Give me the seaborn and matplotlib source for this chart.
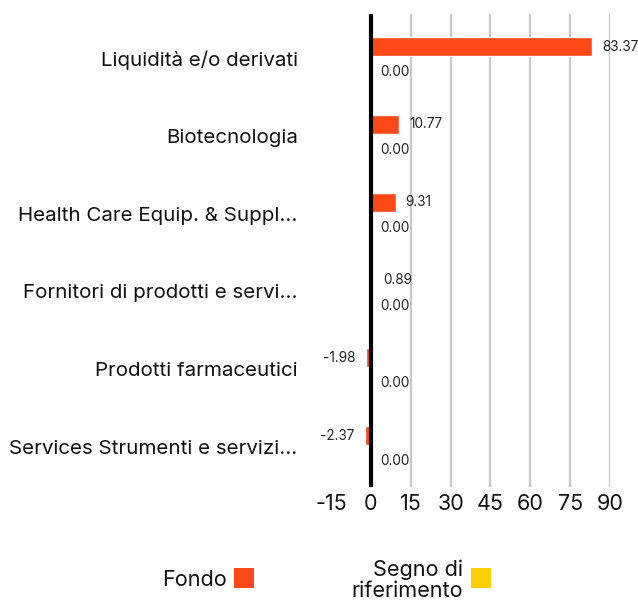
import matplotlib
matplotlib.use("Agg")
import matplotlib.pyplot as plt
import matplotlib.transforms as mtransforms
import seaborn as sns
import pandas as pd
from matplotlib.patches import Rectangle

categories = ["Liquidità e/o derivati", "Biotecnologia", "Health Care Equip. & Suppl...",
              "Fornitori di prodotti e servi...", "Prodotti farmaceutici",
              "Services Strumenti e servizi..."]
fondo = [83.37, 10.77, 9.31, 0.89, -1.98, -2.37]
riferimento = [0.00, 0.00, 0.00, 0.00, 0.00, 0.00]
series_names = ["Fondo", "Segno di\nriferimento"]
x_ticks = [-15, 0, 15, 30, 45, 60, 75, 90]
colors = ["#FF4A17", "#FFCE00"]

df = pd.DataFrame({
    "cat": categories * 2,
    "value": fondo + riferimento,
    "series": [series_names[0]] * len(categories) + [series_names[1]] * len(categories),
})

sns.set_theme(style="white")
plt.rcParams['font.family'] = ['Inter', 'DejaVu Sans']
plt.rcParams['axes.unicode_minus'] = False

W, H = 638, 603
fig = plt.figure(figsize=(W / 100, H / 100), dpi=100)
ax = fig.add_axes([331 / W, 1 - 487 / H, (610 - 331) / W, (487 - 14) / H])

sns.barplot(data=df, y="cat", x="value", hue="series", orient="h", palette=colors,
            width=0.49, ax=ax, legend=False, saturation=1, errorbar=None, zorder=2)

ax.set_xlim(-15, 90)
ax.set_ylim(len(categories) - 0.46, -0.54)
for v in x_ticks:
    if v > 0:
        ax.axvline(v, color="#c8c8c8", lw=1.6, zorder=0)
ax.axvline(0, color="black", lw=3, zorder=3)

ax.set_xticks(x_ticks)
ax.set_xticklabels([str(t) for t in x_ticks])
ax.tick_params(axis='x', length=0, labelsize=15.5, pad=5, colors="#111111")
ax.tick_params(axis='y', length=0, labelsize=14.8, pad=24, colors="#111111")
shift = mtransforms.ScaledTranslation(0, -1.5 / 72, fig.dpi_scale_trans)
for lab in ax.get_yticklabels():
    lab.set_transform(lab.get_transform() + shift)
ax.set_xlabel("")
ax.set_ylabel("")
for s in ax.spines.values():
    s.set_visible(False)

for i, v in enumerate(fondo):
    ax.annotate(f"{v:.2f}", (v, i - 0.12), xytext=(7 if v >= 0 else -7, 0),
                textcoords="offset points", ha='left' if v >= 0 else 'right',
                va='center', fontsize=9.8, color="#222222")
for i, v in enumerate(riferimento):
    ax.annotate(f"{v:.2f}", (v, i + 0.12), xytext=(7, -5),
                textcoords="offset points", ha='left', va='center',
                fontsize=9.8, color="#222222")

# legend
fig.text(227 / W, 1 - 580 / H, series_names[0], ha='right', va='center', fontsize=15.6, color="#111111")
fig.add_artist(Rectangle((234 / W, 1 - 588 / H), 20 / W, 20 / H, transform=fig.transFigure,
                         color=colors[0], lw=0))
fig.text(463 / W, 1 - 580 / H, series_names[1], ha='right', va='center', fontsize=15.6,
         multialignment='right', linespacing=1.05, color="#111111")
fig.add_artist(Rectangle((471 / W, 1 - 588 / H), 20 / W, 20 / H, transform=fig.transFigure,
                         color=colors[1], lw=0))

fig.savefig("out.png", dpi=100)
